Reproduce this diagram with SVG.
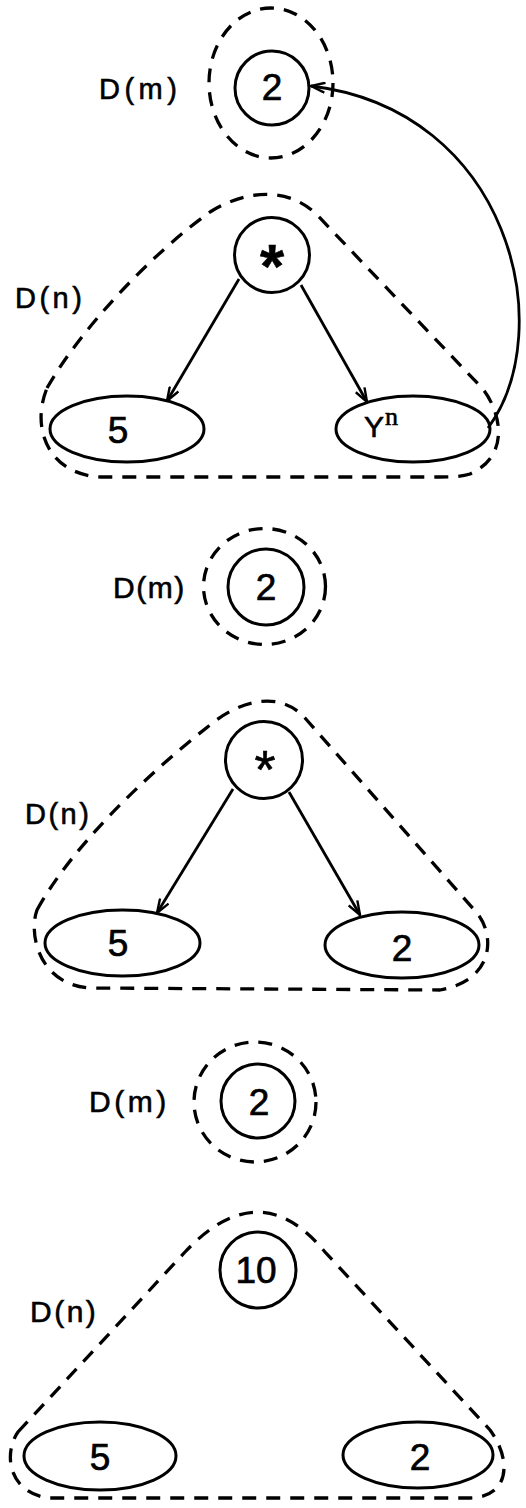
<svg xmlns="http://www.w3.org/2000/svg" width="526" height="1508" viewBox="0 0 526 1508">
<style>
.bg{fill:#fff}
.solid{fill:none;stroke:#000;stroke-width:3}
.dash{fill:none;stroke:#000;stroke-width:3.3;stroke-dasharray:14 10}
.edge{fill:none;stroke:#000;stroke-width:2.8}
.lbl{font-family:"Liberation Sans","DejaVu Sans",sans-serif;fill:#000;stroke:#000;stroke-width:0.6}
.num{font-family:"Liberation Sans","DejaVu Sans",sans-serif;fill:#000;stroke:#000;stroke-width:0.7;font-size:37px;text-anchor:middle}
</style>
<defs>
<marker id="ah" markerUnits="userSpaceOnUse" viewBox="0 0 16 12" markerWidth="16" markerHeight="12" refX="15" refY="6" orient="auto">
<path d="M1,1 L15,6 L1,11" fill="none" stroke="#000" stroke-width="2.4"/>
</marker>
</defs>
<rect class="bg" x="0" y="0" width="526" height="1508"/>

<!-- Panel 1 -->
<g id="p1-dm-region">
<ellipse class="dash" cx="271" cy="83" rx="62" ry="75"/>
<text class="lbl" x="99" y="99" font-size="29" letter-spacing="4.5">D(m)</text>
</g>
<g id="p1-node-2">
<circle class="solid" cx="272" cy="88" r="37"/>
<text class="num" x="272" y="100">2</text>
</g>
<g id="p1-dn-region">
<path class="dash" d="M47 388 C80 330 150 255 210 212 C245 190 290 185 320 218 L482 388 C500 410 512 455 470 474 C460 477 450 477 440 477 L101 477 C50 475 30 430 47 388 Z"/>
<text class="lbl" x="15" y="308" font-size="29" letter-spacing="3.5">D(n)</text>
</g>
<g id="p1-node-times">
<circle class="solid" cx="272" cy="255" r="37.5"/>
<text class="lbl" x="272" y="287" font-size="62" font-weight="bold" text-anchor="middle">*</text>
</g>
<g id="p1-node-5">
<ellipse class="solid" cx="127" cy="429" rx="77" ry="33"/>
<text class="num" x="118" y="443">5</text>
</g>
<g id="p1-node-yn">
<ellipse class="solid" cx="413" cy="429" rx="77" ry="33"/>
<text class="lbl" x="364" y="437" font-size="30" stroke-width="0.6">Y<tspan font-family="Liberation Serif,serif" font-size="26" dy="-12" dx="1">n</tspan></text>
</g>

<!-- Panel 2 -->
<g id="p2-dm-region">
<ellipse class="dash" cx="264.5" cy="586.5" rx="61" ry="58"/>
<text class="lbl" x="113" y="598" font-size="30" letter-spacing="1.5">D(m)</text>
</g>
<g id="p2-node-2">
<circle class="solid" cx="266" cy="587" r="38"/>
<text class="num" x="266" y="600">2</text>
</g>
<g id="p2-dn-region">
<path class="dash" d="M37 910 C70 850 140 780 210 725 C240 700 280 690 305 718 L477 913 C495 935 495 980 440 990 L90 988 C40 985 28 935 37 910 Z"/>
<text class="lbl" x="25" y="824" font-size="29" letter-spacing="2.5">D(n)</text>
</g>
<g id="p2-node-times">
<circle class="solid" cx="264" cy="760" r="38.5"/>
<text class="lbl" x="265" y="788" font-size="54" stroke-width="0.5" text-anchor="middle">*</text>
</g>
<g id="p2-node-5">
<ellipse class="solid" cx="122.5" cy="943" rx="77.5" ry="33"/>
<text class="num" x="118" y="956">5</text>
</g>
<g id="p2-node-2b">
<ellipse class="solid" cx="402" cy="945" rx="77" ry="33"/>
<text class="num" x="402" y="961">2</text>
</g>

<!-- Panel 3 -->
<g id="p3-dm-region">
<ellipse class="dash" cx="255" cy="1102" rx="61" ry="60"/>
<text class="lbl" x="89" y="1112" font-size="30" letter-spacing="3.5">D(m)</text>
</g>
<g id="p3-node-2">
<circle class="solid" cx="258" cy="1101" r="37"/>
<text class="num" x="259" y="1115">2</text>
</g>
<g id="p3-dn-region">
<path class="dash" d="M18 1432 L185 1252 C220 1215 270 1185 325 1252 L490 1430 C512 1460 510 1497 470 1498 L47 1498 C5 1490 5 1450 18 1432 Z"/>
<text class="lbl" x="30" y="1322" font-size="30" letter-spacing="2.5">D(n)</text>
</g>
<g id="p3-node-10">
<circle class="solid" cx="258" cy="1270" r="38"/>
<text class="num" x="256" y="1283">10</text>
</g>
<g id="p3-node-5">
<ellipse class="solid" cx="100" cy="1456" rx="76" ry="34"/>
<text class="num" x="100" y="1470">5</text>
</g>
<g id="p3-node-2b">
<ellipse class="solid" cx="418" cy="1455" rx="75" ry="33"/>
<text class="num" x="420" y="1470">2</text>
</g>

<!-- Connectors -->
<g id="connectors">
<line class="edge" x1="239" y1="279" x2="167" y2="401" marker-end="url(#ah)"/>
<line class="edge" x1="301" y1="285" x2="367" y2="402" marker-end="url(#ah)"/>
<path class="edge" d="M488 428 C560 330 510 110 311 86" marker-end="url(#ah)"/>
<line class="edge" x1="233" y1="789" x2="157" y2="913" marker-end="url(#ah)"/>
<line class="edge" x1="289" y1="792" x2="360" y2="915" marker-end="url(#ah)"/>
</g>
</svg>
